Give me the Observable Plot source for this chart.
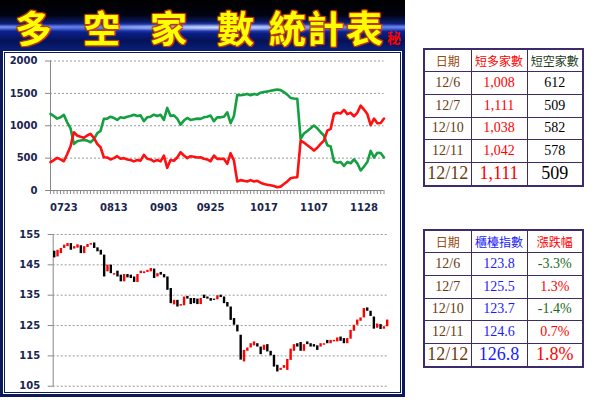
<!DOCTYPE html>
<html><head><meta charset="utf-8">
<script src="https://cdn.jsdelivr.net/npm/d3@7"></script>
<script src="https://cdn.jsdelivr.net/npm/@observablehq/plot@0.6"></script>
<style>
body{margin:0;width:600px;height:400px;background:#fff;position:relative;overflow:hidden;font-family:"DejaVu Sans",sans-serif;}
#band{position:absolute;left:0;top:0;width:405px;height:50px;z-index:2;
background:
 radial-gradient(ellipse 60% 12% at 55% 55%, rgba(220,230,255,0.9), rgba(60,90,220,0.4) 60%, rgba(0,0,0,0) 100%),
 linear-gradient(180deg,#000 0%,#01030f 30%,#0c1f7a 48%,#7f9cff 54%,#0c2290 62%,#041257 82%,#0a1f78 100%);}
.tc{position:absolute;top:0;z-index:3;font-family:"Noto Sans CJK TC",sans-serif;font-weight:bold;font-size:37px;line-height:normal;color:#ffff00;
text-shadow:1px 1px 0 #c03a00,-1px -1px 0 #c03a00,1px -1px 0 #c03a00,-1px 1px 0 #c03a00,0 0 3px #ff5000;}
.secret{position:absolute;left:387px;top:27px;z-index:3;font-family:"Noto Sans CJK TC",sans-serif;font-weight:bold;font-size:14px;line-height:normal;color:#ff0000;}
#panel{position:absolute;left:0;top:48px;width:405px;height:349px;box-sizing:border-box;border:3px solid #0c1a5a;
box-shadow:inset 0 0 0 1px #fff,inset 0 0 0 2px #0c1a5a;background:#fff;}
#top{position:absolute;left:0;top:52px;}
#bot{position:absolute;left:0;top:222px;}
table.t{position:absolute;left:423px;width:159px;border-collapse:collapse;border:2px solid #3d2b6b;table-layout:fixed;}
table.t td{border:1px solid #3d2b6b;text-align:center;padding:0;font-family:"Liberation Serif",serif;font-size:14px;white-space:nowrap;}
table.t td.h{font-family:"Noto Sans CJK TC",sans-serif;font-size:12px;}
table.t tr.last td{font-size:18px;}
</style></head>
<body>
<div id="panel"></div>
<div id="band"></div>
<div id="top"></div>
<div id="bot"></div>
<table class="t" id="t1" style="top:48px"></table>
<table class="t" id="t2" style="top:229px"></table>
<script>
// ---- data ----
const bullCount = [437,470,504,480,452,560,680,900,850,830,
813,850,875,813,720,668,514,510,480,500,
530,490,500,480,470,450,470,460,550,490,
480,450,470,450,540,350,470,460,510,591,
540,500,530,520,510,514,490,480,452,540,
489,490,489,411,576,463,139,160,150,140,
160,140,150,120,100,90,80,70,51,60,
100,140,190,200,205,771,740,700,660,617,
660,720,771,926,952,1183,1200,1190,1245,1180,
1200,1147,1200,1311,1250,1180,1008,1111,1038,1042,1111];
const bearCount = [1183,1150,1110,1130,1168,1054,960,720,760,771,
780,770,745,790,884,920,1106,1110,1140,1120,
1090,1130,1120,1140,1150,1170,1150,1160,1070,1130,
1140,1170,1150,1170,1090,1276,1150,1160,1110,1018,
1080,1120,1090,1100,1110,1106,1130,1140,1157,1070,
1130,1130,1140,1208,1039,1150,1476,1470,1480,1490,
1470,1490,1480,1510,1520,1530,1540,1550,1560,1550,
1520,1480,1430,1420,1415,798,880,920,960,1003,
960,900,850,700,680,452,430,440,380,440,
420,480,420,309,370,440,612,509,582,578,509];
const xTickIndex = [4,19,34,48,64,79,94];
const xTickLabels = ["0723","0813","0903","0925","1017","1107","1128"];
const topYTicks = [0,500,1000,1500,2000];

const openPrice = [149.5,147.6,148.7,150.4,151.0,152.0,150.2,150.5,151.3,148.7,
150.7,151.5,152.2,150.6,149.8,148.2,142.7,144.9,141.6,142.9,
141.6,139.4,141.8,141.6,141.0,139.2,142.1,142.1,142.5,142.7,
143.6,141.0,142.5,141.8,141.0,137.2,131.8,133.3,131.4,131.5,
134.6,133.9,133.9,133.7,131.9,135.0,134.4,133.9,133.7,133.5,
135.0,134.4,132.6,131.1,127.3,125.1,121.8,113.0,116.5,117.6,
118.3,119.0,117.9,116.8,118.7,116.5,115.2,111.9,110.2,110.9,
110.2,113.5,116.5,119.0,119.4,116.5,119.6,119.0,118.7,118.3,
117.9,118.5,120.1,119.0,119.6,119.6,121.2,120.7,119.0,120.5,
123.1,125.1,126.4,127.5,130.8,129.7,127.8,124.1,125.3,123.8,124.6];
const closePrice = [147.3,149.8,150.4,151.5,152.0,149.8,151.0,151.6,148.7,151.0,
151.7,152.0,150.4,149.3,148.2,141.0,144.9,142.1,142.1,141.0,
139.4,141.8,140.7,140.5,139.2,141.8,142.9,142.7,143.2,143.8,
140.5,142.1,141.6,140.7,136.6,132.2,133.3,131.1,131.9,134.4,
133.7,131.9,132.2,131.9,133.9,133.9,133.7,133.0,133.3,134.8,
134.2,132.2,131.1,126.7,125.1,122.9,113.6,116.8,117.6,119.0,
119.6,117.9,115.4,118.5,116.3,115.0,111.3,109.7,110.9,111.8,
113.8,117.2,118.7,117.9,116.5,118.7,118.7,117.9,117.9,116.8,
119.0,119.0,119.0,120.1,120.1,120.9,119.8,119.0,120.7,123.4,
125.1,126.8,127.5,130.6,129.7,128.0,123.8,125.5,123.7,124.6,126.8];
const botYTicks = [105,115,125,135,145,155];

const tableDates = ["12/6","12/7","12/10","12/11","12/12"];
const tableBull = ["1,008","1,111","1,038","1,042","1,111"];
const tableBear = ["612","509","582","578","509"];
const tableIndex = ["123.8","125.5","123.7","124.6","126.8"];
const tableChange = ["-3.3%","1.3%","-1.4%","0.7%","1.8%"];

// ---- title ----
const titleChars = ["多","空","家","數","統","計","表"];
const titleLeft = [15,83,150,217,269,307,346];
titleChars.forEach((c,k)=>{const s=document.createElement("span");s.className="tc";s.style.left=titleLeft[k]+"px";s.textContent=c;document.body.appendChild(s);});
const sec=document.createElement("span");sec.className="secret";sec.textContent="秘";document.body.appendChild(sec);

const navy = "#1a2550";
const axisFont = {fontFamily:"DejaVu Sans", fontWeight:"bold", fontSize:"10px", color:navy, background:"transparent", overflow:"visible"};

// ---- top chart ----
const lineData = bullCount.map((b,i)=>({i, bull:b, bear:bearCount[i]}));
const topPlot = Plot.plot({
  width:400, height:165, marginLeft:50, marginRight:16.5, marginTop:8.5, marginBottom:27,
  x:{domain:[0, bullCount.length-1], label:null},
  y:{domain:[0,2000], label:null},
  style:axisFont,
  marks:[
    Plot.gridY(topYTicks.filter(v=>v>0), {stroke:"#999", strokeOpacity:1, strokeDasharray:"2,2"}),
    Plot.axisY(topYTicks, {tickSize:5, tickPadding:8, stroke:"#888", fill:navy, tickFormat:d=>String(d), label:null}),
    Plot.axisX(d3.range(bullCount.length), {tickSize:4, tickFormat:()=>"", stroke:"#888", label:null}),
    Plot.axisX(xTickIndex, {tickSize:0, tickPadding:13, tickFormat:v=>xTickLabels[xTickIndex.indexOf(v)], fill:navy, label:null}),
    Plot.ruleX([0], {stroke:"#888"}),
    Plot.ruleY([0], {stroke:"#888"}),
    Plot.line(lineData, {x:"i", y:"bear", stroke:"#14a040", strokeWidth:2.6}),
    Plot.line(lineData, {x:"i", y:"bull", stroke:"#ff1010", strokeWidth:2.6})
  ]
});
document.getElementById("top").appendChild(topPlot);

// ---- bottom chart ----
const candles = openPrice.map((o,i)=>({i, open:o, close:closePrice[i]}));
const botPlot = Plot.plot({
  width:400, height:172, marginLeft:52.7, marginRight:11.3, marginTop:12, marginBottom:8.3,
  x:{domain:[0, openPrice.length-1], insetLeft:1, insetRight:2, axis:null},
  y:{domain:[105,155], label:null},
  style:axisFont,
  marks:[
    Plot.gridY(botYTicks, {stroke:"#999", strokeOpacity:1, strokeDasharray:"2,2"}),
    Plot.axisY(botYTicks, {tickSize:5, tickPadding:8, stroke:"#888", fill:navy, label:null}),
    Plot.frame({anchor:"left", stroke:"#888"}),
    Plot.ruleX(candles, {filter:d=>d.close<d.open, x:"i", y1:"open", y2:"close", stroke:"#000", strokeWidth:2.4}),
    Plot.ruleX(candles, {filter:d=>d.close>=d.open, x:"i", y1:"open", y2:"close", stroke:"#ff0000", strokeWidth:2.4})
  ]
});
document.getElementById("bot").appendChild(botPlot);

// ---- tables ----
function buildTable(id, headers, headColors, cols, colColors, changeCol){
  const t=document.getElementById(id);
  const cg=document.createElement("colgroup");
  [47,56,56].forEach(w=>{const c=document.createElement("col");c.style.width=w+"px";cg.appendChild(c);});
  t.appendChild(cg);
  const heights=[22,23,23,22,23,24];
  const hr=document.createElement("tr");hr.style.height=heights[0]+"px";
  headers.forEach((h,k)=>{const td=document.createElement("td");td.className="h";td.textContent=h;td.style.color=headColors[k];hr.appendChild(td);});
  t.appendChild(hr);
  for(let r=0;r<tableDates.length;r++){
    const tr=document.createElement("tr");tr.style.height=heights[r+1]+"px";
    if(r===tableDates.length-1) tr.className="last";
    cols.forEach((col,k)=>{const td=document.createElement("td");td.textContent=col[r];
      let c=colColors[k];
      if(changeCol===k) c = col[r].startsWith("-") ? "#1a6a1a" : "#ff0000";
      td.style.color=c;tr.appendChild(td);});
    t.appendChild(tr);
  }
}
buildTable("t1",["日期","短多家數","短空家數"],["#9a4a10","#ff0000","#1a3a1a"],[tableDates,tableBull,tableBear],["#6a3a10","#ff0000","#000"],-1);
buildTable("t2",["日期","櫃檯指數","漲跌幅"],["#9a4a10","#2020ff","#ff0000"],[tableDates,tableIndex,tableChange],["#6a3a10","#1a1aff","#000"],2);
</script>
</body></html>
